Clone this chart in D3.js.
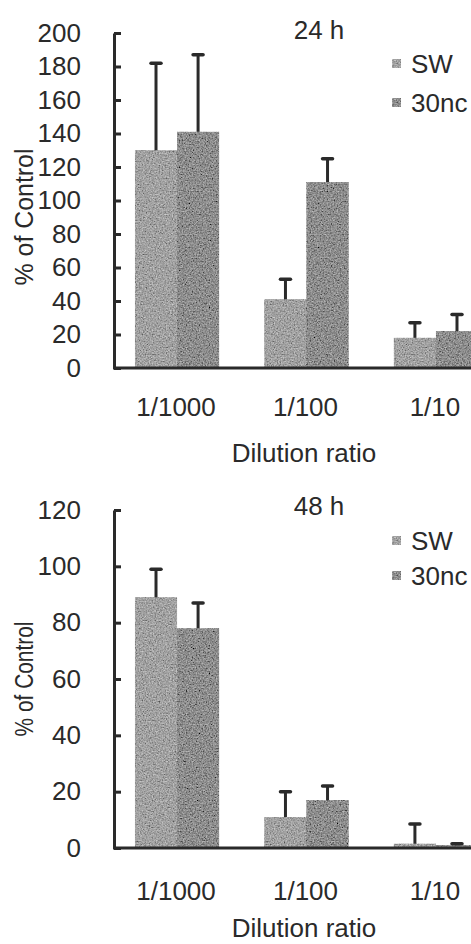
<!DOCTYPE html>
<html>
<head>
<meta charset="utf-8">
<script src="https://cdn.jsdelivr.net/npm/d3@7"></script>
<style>
  html, body { margin: 0; padding: 0; background: #fff; }
  svg { display: block; font-family: "Liberation Sans", Arial, sans-serif; }
</style>
</head>
<body>
<div id="chart"></div>
<script>
const categories = ["1/1000", "1/100", "1/10"];
const seriesNames = ["SW", "30nc"];

// 24 h panel (mean, upper SD)
const sw24 = [130, 41, 18];
const sw24Err = [52, 12, 9];
const nc24 = [141, 111, 22];
const nc24Err = [46, 14, 10];
const ticks24 = [0, 20, 40, 60, 80, 100, 120, 140, 160, 180, 200];

// 48 h panel
const sw48 = [89, 11, 1.5];
const sw48Err = [10, 9, 7];
const nc48 = [78, 17, 1];
const nc48Err = [9, 5, 0.5];
const ticks48 = [0, 20, 40, 60, 80, 100, 120];

const width = 471;
const height = 944;
const ink = "#2a2a2a";
const barColors = ["#a2a2a2", "#8e8e8e"];

const svg = d3
  .select("#chart")
  .append("svg")
  .attr("width", width)
  .attr("height", height)
  .attr("viewBox", `0 0 ${width} ${height}`);

// grainy scan look for the bars
const filter = svg
  .append("defs")
  .append("filter")
  .attr("id", "grain")
  .attr("x", 0)
  .attr("y", 0)
  .attr("width", 1)
  .attr("height", 1);
filter
  .append("feTurbulence")
  .attr("type", "fractalNoise")
  .attr("baseFrequency", 0.7)
  .attr("numOctaves", 2)
  .attr("seed", 4)
  .attr("result", "noise");
filter
  .append("feColorMatrix")
  .attr("in", "noise")
  .attr("type", "matrix")
  .attr(
    "values",
    "0.33 0.33 0.33 0 0  0.33 0.33 0.33 0 0  0.33 0.33 0.33 0 0  0 0 0 0 1"
  )
  .attr("result", "gray");
filter
  .append("feComposite")
  .attr("in", "SourceGraphic")
  .attr("in2", "gray")
  .attr("operator", "arithmetic")
  .attr("k1", 0)
  .attr("k2", 1)
  .attr("k3", 1.1)
  .attr("k4", -0.55)
  .attr("result", "mix");
filter
  .append("feComposite")
  .attr("in", "mix")
  .attr("in2", "SourceGraphic")
  .attr("operator", "in");

const x0 = d3
  .scaleBand()
  .domain(categories)
  .range([114, 499])
  .paddingInner(0.35)
  .paddingOuter(0.162);

const x1 = d3
  .scaleBand()
  .domain(seriesNames)
  .range([0, x0.bandwidth()]);

const panels = [
  {
    title: "24 h",
    values: [sw24, nc24],
    errs: [sw24Err, nc24Err],
    yMax: 200,
    ticks: ticks24,
    yTop: 33,
    yBottom: 368,
    titleY: 39,
    legendY: [73, 112],
    catLabelY: 416,
    xTitleY: 462,
    yTitleY: 217,
    yTitleLen: 137,
  },
  {
    title: "48 h",
    values: [sw48, nc48],
    errs: [sw48Err, nc48Err],
    yMax: 120,
    ticks: ticks48,
    yTop: 510,
    yBottom: 848,
    titleY: 515,
    legendY: [550, 585],
    catLabelY: 900,
    xTitleY: 937,
    yTitleY: 679,
    yTitleLen: 115,
  },
];

panels.forEach((p) => drawPanel(p));

function drawPanel(p) {
  const y = d3.scaleLinear().domain([0, p.yMax]).range([p.yBottom, p.yTop]);
  const g = svg.append("g");

  // bars
  const groups = g
    .append("g")
    .selectAll("g")
    .data(categories)
    .enter()
    .append("g")
    .attr("transform", (d) => `translate(${x0(d)},0)`);

  seriesNames.forEach((s, si) => {
    groups
      .append("rect")
      .attr("x", x1(s))
      .attr("y", (d, i) => y(p.values[si][i]))
      .attr("width", x1.bandwidth())
      .attr("height", (d, i) => y(0) - y(p.values[si][i]))
      .attr("fill", barColors[si])
      .attr("filter", "url(#grain)");
  });

  // upper error bars
  seriesNames.forEach((s, si) => {
    const cx = x1(s) + x1.bandwidth() / 2;
    groups
      .append("line")
      .attr("x1", cx)
      .attr("x2", cx)
      .attr("y1", (d, i) => y(p.values[si][i]))
      .attr("y2", (d, i) => y(p.values[si][i] + p.errs[si][i]))
      .attr("stroke", ink)
      .attr("stroke-width", 3);
    groups
      .append("line")
      .attr("x1", cx - 5)
      .attr("x2", cx + 5)
      .attr("y1", (d, i) => y(p.values[si][i] + p.errs[si][i]))
      .attr("y2", (d, i) => y(p.values[si][i] + p.errs[si][i]))
      .attr("stroke", ink)
      .attr("stroke-width", 3.5)
      .attr("stroke-linecap", "round");
  });

  // y axis, ticks pointing inward
  const yAxis = g
    .append("g")
    .attr("transform", "translate(114,0)")
    .call(
      d3
        .axisLeft(y)
        .tickValues(p.ticks)
        .tickSizeInner(-7)
        .tickSizeOuter(0)
        .tickPadding(33)
    );
  yAxis.select(".domain").attr("stroke", ink).attr("stroke-width", 3);
  yAxis.selectAll(".tick line").attr("stroke", ink).attr("stroke-width", 3);
  yAxis
    .selectAll(".tick text")
    .attr("fill", ink)
    .style("font-size", "26px")
    .style("font-family", "Liberation Sans, Arial, sans-serif");

  // x axis line
  g.append("line")
    .attr("x1", 113)
    .attr("x2", width)
    .attr("y1", y(0))
    .attr("y2", y(0))
    .attr("stroke", ink)
    .attr("stroke-width", 3);

  // category labels
  g.append("g")
    .selectAll("text")
    .data(categories)
    .enter()
    .append("text")
    .attr("x", (d) => x0(d) + x0.bandwidth() / 2 - 1)
    .attr("y", p.catLabelY)
    .attr("text-anchor", "middle")
    .attr("fill", ink)
    .style("font-size", "26px")
    .text((d) => d);

  // axis titles
  g.append("text")
    .attr("x", 304)
    .attr("y", p.xTitleY)
    .attr("text-anchor", "middle")
    .attr("fill", ink)
    .style("font-size", "26px")
    .text("Dilution ratio");

  g.append("text")
    .attr("transform", `translate(33,${p.yTitleY}) rotate(-90)`)
    .attr("text-anchor", "middle")
    .attr("fill", ink)
    .attr("textLength", p.yTitleLen)
    .attr("lengthAdjust", "spacingAndGlyphs")
    .style("font-size", "25px")
    .text("% of Control");

  // panel title
  g.append("text")
    .attr("x", 319)
    .attr("y", p.titleY)
    .attr("text-anchor", "middle")
    .attr("fill", ink)
    .style("font-size", "26px")
    .text(p.title);

  // legend
  const legend = g
    .append("g")
    .selectAll("g")
    .data(seriesNames)
    .enter()
    .append("g")
    .attr("transform", (d, i) => `translate(392,${p.legendY[i]})`);
  legend
    .append("rect")
    .attr("x", 0)
    .attr("y", -14)
    .attr("width", 9)
    .attr("height", 9)
    .attr("fill", (d, i) => barColors[i])
    .attr("filter", "url(#grain)");
  legend
    .append("text")
    .attr("x", 19)
    .attr("y", 0)
    .attr("fill", ink)
    .style("font-size", "26px")
    .text((d) => d);
}
</script>
</body>
</html>
